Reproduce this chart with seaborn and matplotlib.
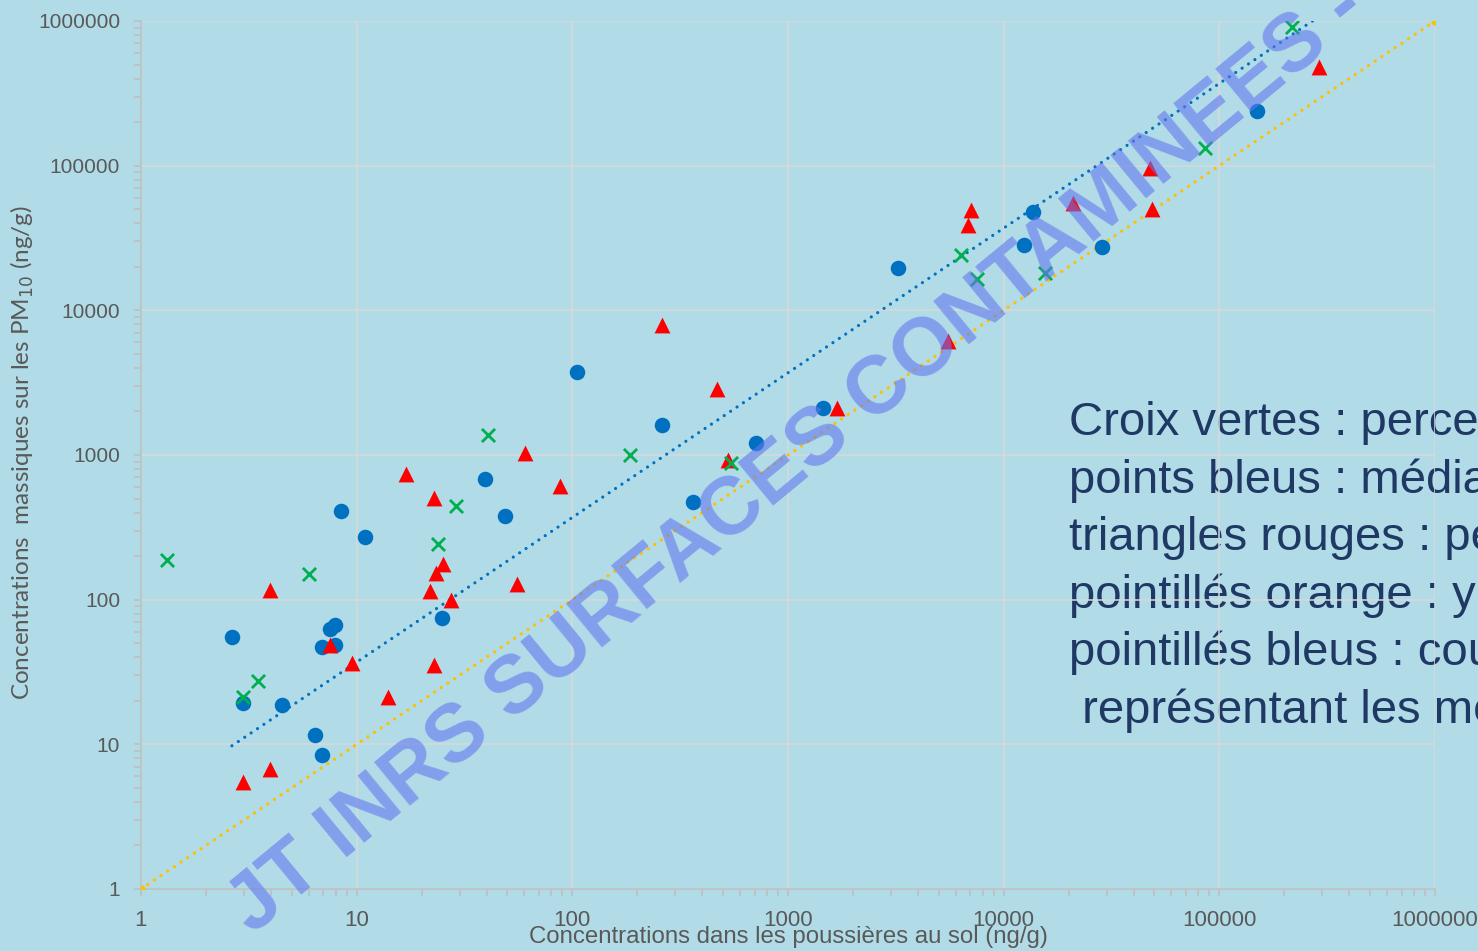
import numpy as np
import pandas as pd
import seaborn as sns
import matplotlib.pyplot as plt
import matplotlib.ticker as mticker

# medianes (points bleus)
med_x = [2.64, 2.97, 4.5, 6.4, 6.9, 6.9, 7.5, 7.95, 7.95, 8.46, 10.9, 24.9, 39.3, 48.7,
         105, 260, 362, 710, 1452, 3235, 12400, 13650, 28500, 149000]
med_y = [55, 19.3, 18.7, 11.6, 8.4, 47, 62.6, 66.7, 48.6, 410, 271, 74.6, 681, 378,
         3740, 1610, 473, 1208, 2110, 19600, 28200, 47700, 27300, 238000]

# percentiles (triangles rouges)
p75_x = [2.97, 3.96, 3.96, 7.5, 9.5, 14, 16.9, 22.8, 21.9, 23.3, 25.1, 27.4, 22.8, 55.4,
         60.3, 87.7, 260, 468, 527, 1686, 5510, 6820, 7050, 20900, 47600, 48700, 289000]
p75_y = [5.5, 6.75, 116, 48.6, 36.5, 21.2, 738, 504, 115, 153, 176, 99, 35.3, 128,
         1030, 610, 7900, 2850, 922, 2110, 6130, 38800, 49300, 55000, 96100, 50000, 480000]

# percentiles (croix vertes)
p95_x = [1.32, 2.97, 3.49, 6.0, 23.8, 28.9, 40.6, 185, 543, 6340, 7510, 15500, 85700, 217000]
p95_y = [188, 21.2, 27.4, 150, 242, 443, 1372, 998, 880, 24000, 16400, 18100, 132000, 906000]

# y = x et courbe de tendance des medianes
diag_x = [1, 1000000]
trend_x = [2.64, 289000]
trend_coef = 3.7

xticks = [1, 10, 100, 1000, 10000, 100000, 1000000]

notes = ["Croix vertes : percentiles 95",
         "points bleus : médianes",
         "triangles rouges : percentiles 75",
         "pointillés orange : y = x",
         "pointillés bleus : courbe de tendance",
         " représentant les médianes"]

bg = "#B1DCE7"
sns.set_theme(style="whitegrid", rc={
    "axes.facecolor": bg, "figure.facecolor": bg,
    "grid.color": "#D9D9D9", "grid.linewidth": 1.1,
    "axes.edgecolor": "#BFBFBF", "axes.linewidth": 1.1,
})
plt.rcParams["font.family"] = ["Liberation Sans", "DejaVu Sans"]

df = pd.concat([
    pd.DataFrame({"x": med_x, "y": med_y, "serie": "med"}),
    pd.DataFrame({"x": p75_x, "y": p75_y, "serie": "p75"}),
    pd.DataFrame({"x": p95_x, "y": p95_y, "serie": "p95"}),
])

fig = plt.figure(figsize=(14.78, 9.51), dpi=100)
ax = fig.add_axes([141 / 1478, 1 - 889 / 951, 1294 / 1478, 868 / 951])

ax.set_xscale("log")
ax.set_yscale("log")

# lignes en pointilles
sns.lineplot(x=diag_x, y=diag_x, ax=ax, color="#FFC000", linewidth=2.4,
             linestyle=(0, (0.01, 2.4)), dash_capstyle="round",
             marker="o", markersize=6, markeredgewidth=0, zorder=3)
trend_y = [trend_coef * v for v in trend_x]
sns.lineplot(x=trend_x, y=trend_y, ax=ax, color="#0070C0", linewidth=2.3,
             linestyle=(0, (0.01, 2.4)), dash_capstyle="round", zorder=3)

sns.scatterplot(data=df[df.serie == "med"], x="x", y="y", ax=ax, color="#0070C0",
                marker="o", s=125, linewidth=0, zorder=4, legend=False)
sns.scatterplot(data=df[df.serie == "p75"], x="x", y="y", ax=ax, color="#FF0000",
                marker="^", s=130, linewidth=0, zorder=5, legend=False)
sns.scatterplot(data=df[df.serie == "p95"], x="x", y="y", ax=ax, color="#00B050",
                marker="x", s=90, linewidth=2, zorder=6, legend=False)

ax.set_xlim(1, 1000000)
ax.set_ylim(1, 1000000)

ax.set_xticks(xticks)
ax.set_yticks(xticks)
fmt = mticker.FuncFormatter(lambda v, _: f"{v:.0f}")
ax.xaxis.set_major_formatter(fmt)
ax.yaxis.set_major_formatter(fmt)
ax.xaxis.set_minor_locator(mticker.LogLocator(base=10, subs=np.arange(2, 10)))
ax.yaxis.set_minor_locator(mticker.LogLocator(base=10, subs=np.arange(2, 10)))
ax.xaxis.set_minor_formatter(mticker.NullFormatter())
ax.yaxis.set_minor_formatter(mticker.NullFormatter())
ax.grid(True, which="major")
ax.grid(False, which="minor")

ax.tick_params(axis="both", which="both", direction="out", color="#BFBFBF",
               length=5, width=1.1, left=True, bottom=True)
ax.tick_params(axis="y", labelsize=15, labelcolor="#595959", pad=10)
ax.tick_params(axis="x", labelsize=16, labelcolor="#595959", pad=10)
for lab in ax.get_xticklabels():
    lab.set_family(["Liberation Sans Narrow", "Liberation Sans"])

for side in ["top", "right"]:
    ax.spines[side].set_visible(False)

ax.set_xlabel("Concentrations dans les poussières au sol (ng/g)", fontsize=17.3,
              color="#595959", family=["Liberation Sans Narrow", "Liberation Sans"])
ax.xaxis.set_label_coords(0.5, -0.043)
ax.set_ylabel("Concentrations  massiques sur les PM$_{10}$ (ng/g)", fontsize=17.5,
              color="#595959", family=["Lato", "DejaVu Sans"])
ax.yaxis.set_label_coords(-0.081, 0.503)

# texte explicatif
for i, line in enumerate(notes):
    ax.text(1069 / 1478, 1 - (423 + 57.5 * i) / 951, line, transform=fig.transFigure,
            fontsize=34, color="#1F3864", va="center", ha="left", clip_on=False,
            zorder=0.4)

# filigrane
fig.text(252 / 1478, 1 - 935 / 951, "JT INRS SURFACES CONTAMINEES - OCTOBRE",
         rotation=39.5, rotation_mode="anchor", ha="left", va="baseline",
         fontsize=58.7, fontweight="bold", color="#6376F0", alpha=0.6, zorder=10)

fig.savefig("out.png", dpi=100, facecolor=bg)
